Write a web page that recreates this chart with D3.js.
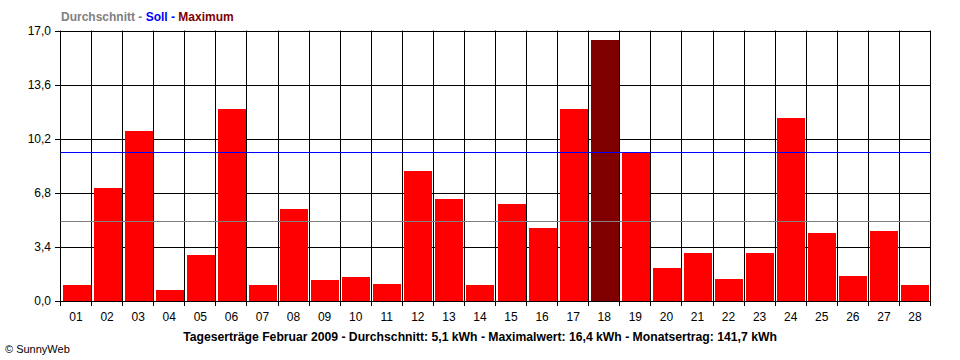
<!DOCTYPE html>
<html><head><meta charset="utf-8">
<script src="https://cdn.jsdelivr.net/npm/d3@7"></script>
<style>body{margin:0;background:#fff}svg{display:block}text{font-family:"Liberation Sans",Arial,sans-serif}</style>
</head><body><svg id="c" width="960" height="360"></svg>
<script>
const days = ["01","02","03","04","05","06","07","08","09","10","11","12","13","14","15","16","17","18","19","20","21","22","23","24","25","26","27","28"];
const values = [1.0,7.1,10.7,0.67,2.88,12.07,1.0,5.77,1.3,1.49,1.05,8.17,6.4,1.0,6.09,4.58,12.07,16.4,9.3,2.06,3.0,1.37,3.0,11.5,4.26,1.56,4.39,1.0];
const yTicks = [0,3.4,6.8,10.2,13.6,17.0];
const average = 5.0;
const target = 9.34;
const caption = "Tageserträge Februar 2009 - Durchschnitt: 5,1 kWh - Maximalwert: 16,4 kWh - Monatsertrag: 141,7 kWh";

const svg = d3.select("#c");
const x = d3.scaleBand().domain(days).range([60.5, 930.5]).padding(0);
const y = d3.scaleLinear().domain([0, 17]).range([300.5, 30.5]);
const maxV = d3.max(values);
const fmt = v => d3.format(".1f")(v).replace(".", ",");

// horizontal grid
svg.append("g").selectAll("line").data(yTicks).join("line")
  .attr("x1", 55).attr("x2", 930.5)
  .attr("y1", d => Math.round(y(d)) + 0.5).attr("y2", d => Math.round(y(d)) + 0.5)
  .attr("stroke", "#000").attr("stroke-width", 1);
// vertical grid (band boundaries)
const bounds = days.map(d => x(d)).concat([x(days[days.length-1]) + x.bandwidth()]);
svg.append("g").selectAll("line").data(bounds).join("line")
  .attr("x1", d => Math.round(d - 0.5) + 0.5).attr("x2", d => Math.round(d - 0.5) + 0.5)
  .attr("y1", 30.5).attr("y2", 306)
  .attr("stroke", "#000").attr("stroke-width", 1);

// bars
svg.append("g").selectAll("rect").data(values).join("rect")
  .attr("x", (d, i) => Math.round(x(days[i])) + 2)
  .attr("width", Math.round(x.bandwidth()) - 3)
  .attr("y", d => Math.round(y(d)))
  .attr("height", d => Math.round(y(0)) - Math.round(y(d)))
  .attr("fill", d => d === maxV ? "#800000" : "#ff0000");

// reference lines
svg.append("line").attr("x1", 60.5).attr("x2", 930.5)
  .attr("y1", Math.round(y(average)) + 0.5).attr("y2", Math.round(y(average)) + 0.5)
  .attr("stroke", "#808080");
svg.append("line").attr("x1", 60.5).attr("x2", 930.5)
  .attr("y1", Math.round(y(target)) + 0.5).attr("y2", Math.round(y(target)) + 0.5)
  .attr("stroke", "#0000ff");

// y labels
svg.append("g").selectAll("text").data(yTicks).join("text")
  .attr("x", 51).attr("y", d => y(d) + 4)
  .attr("text-anchor", "end").attr("font-size", 12).text(fmt);
// x labels
svg.append("g").selectAll("text").data(days).join("text")
  .attr("x", d => x(d) + x.bandwidth() / 2).attr("y", 321)
  .attr("text-anchor", "middle").attr("font-size", 12).text(d => d);

// legend
const lg = svg.append("text").attr("x", 61).attr("y", 21).attr("font-size", 12).attr("font-weight", "bold");
lg.append("tspan").attr("fill", "#808080").text("Durchschnitt - ");
lg.append("tspan").attr("fill", "#0000ff").text("Soll - ");
lg.append("tspan").attr("fill", "#800000").text("Maximum");

// caption
svg.append("text").attr("x", 480).attr("y", 341).attr("text-anchor", "middle")
  .attr("font-size", 12.2).attr("font-weight", "bold").text(caption);
svg.append("text").attr("x", 5).attr("y", 353).attr("font-size", 11).text("© SunnyWeb");
</script></body></html>
